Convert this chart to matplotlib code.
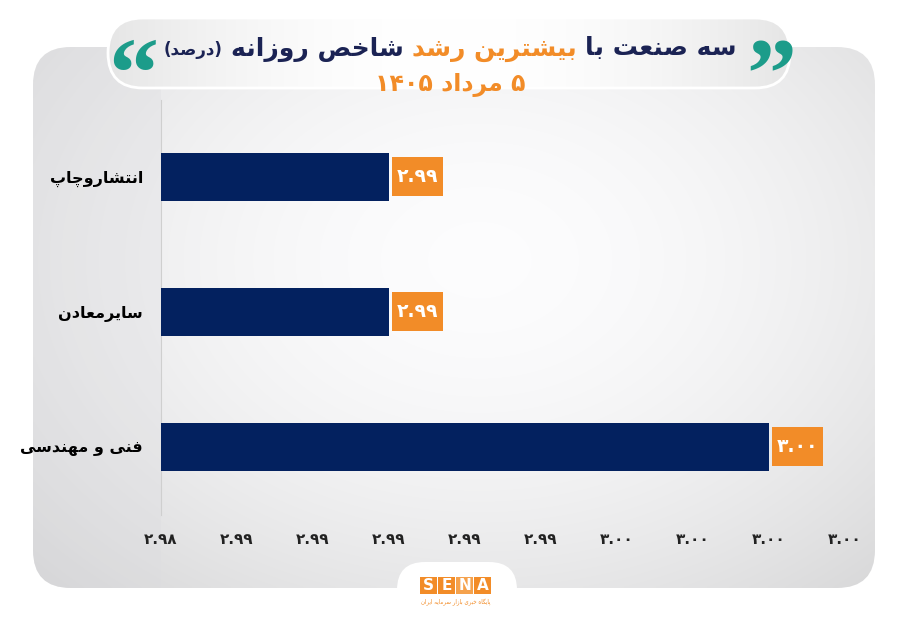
import numpy as np
import matplotlib
matplotlib.use("Agg")
import matplotlib.pyplot as plt
from matplotlib.patches import FancyBboxPatch, Rectangle
from matplotlib.offsetbox import TextArea, HPacker, AnnotationBbox
from matplotlib.ticker import FuncFormatter

# داده‌ها
categories = ["انتشاروچاپ", "سایرمعادن", "فنی و مهندسی"]
values = [2.9904, 2.9904, 3.0014]
x_start = 2.9838
x_step = 0.0022
n_ticks = 10

title_parts = ["سه صنعت با", "بیشترین رشد", "شاخص روزانه", "(درصد)"]
subtitle = "۵ مرداد ۱۴۰۵"
logo_letters = ["S", "E", "N", "A"]
tagline = "پایگاه خبری بازار سرمایه ایران"

NAVY = "#03215f"
ORANGE = "#f28c28"
DARK = "#1b2354"
TEAL = "#1c9c8a"

# --- شکل‌دهی ساده حروف فارسی (matplotlib خودش اتصال حروف را انجام نمی‌دهد)
FORMS = {
    "ا": ("\uFE8D", "\uFE8E", None, None),
    "ب": ("\uFE8F", "\uFE90", "\uFE91", "\uFE92"),
    "پ": ("\uFB56", "\uFB57", "\uFB58", "\uFB59"),
    "ت": ("\uFE95", "\uFE96", "\uFE97", "\uFE98"),
    "چ": ("\uFB7A", "\uFB7B", "\uFB7C", "\uFB7D"),
    "خ": ("\uFEA5", "\uFEA6", "\uFEA7", "\uFEA8"),
    "د": ("\uFEA9", "\uFEAA", None, None),
    "ر": ("\uFEAD", "\uFEAE", None, None),
    "ز": ("\uFEAF", "\uFEB0", None, None),
    "س": ("\uFEB1", "\uFEB2", "\uFEB3", "\uFEB4"),
    "ش": ("\uFEB5", "\uFEB6", "\uFEB7", "\uFEB8"),
    "ص": ("\uFEB9", "\uFEBA", "\uFEBB", "\uFEBC"),
    "ع": ("\uFEC9", "\uFECA", "\uFECB", "\uFECC"),
    "ف": ("\uFED1", "\uFED2", "\uFED3", "\uFED4"),
    "ک": ("\uFB8E", "\uFB8F", "\uFB90", "\uFB91"),
    "گ": ("\uFB92", "\uFB93", "\uFB94", "\uFB95"),
    "ل": ("\uFEDD", "\uFEDE", "\uFEDF", "\uFEE0"),
    "م": ("\uFEE1", "\uFEE2", "\uFEE3", "\uFEE4"),
    "ن": ("\uFEE5", "\uFEE6", "\uFEE7", "\uFEE8"),
    "ه": ("\uFEE9", "\uFEEA", "\uFEEB", "\uFEEC"),
    "و": ("\uFEED", "\uFEEE", None, None),
    "ی": ("\uFBFC", "\uFBFD", "\uFBFE", "\uFBFF"),
}
FA_DIGITS = str.maketrans("0123456789", "۰۱۲۳۴۵۶۷۸۹")


def shape(s):
    out = []
    for i, ch in enumerate(s):
        if ch not in FORMS:
            out.append(ch)
            continue
        prev = s[i - 1] if i > 0 else ""
        nxt = s[i + 1] if i + 1 < len(s) else ""
        join_prev = prev in FORMS and FORMS[prev][2] is not None
        join_next = nxt in FORMS and FORMS[ch][2] is not None
        iso, fin, ini, med = FORMS[ch]
        if join_prev and join_next:
            out.append(med)
        elif join_prev:
            out.append(fin)
        elif join_next:
            out.append(ini)
        else:
            out.append(iso)
    return "".join(out)


def is_arabic(c):
    return ("\u0600" <= c <= "\u06EF") or ("\uFB50" <= c <= "\uFEFF")


def fa(s):
    words = shape(s).split(" ")
    res = []
    for w in words:
        if any(is_arabic(c) for c in w):
            w = w[::-1].translate(str.maketrans("()", ")("))
        res.append(w)
    return " ".join(res[::-1])


plt.rcParams["font.family"] = ["DejaVu Sans"]

fig = plt.figure(figsize=(9, 6.23), dpi=100)
bg = fig.add_axes([0, 0, 1, 1])
bg.set_xlim(0, 900)
bg.set_ylim(623, 0)
bg.axis("off")

# پنل خاکستری با گرادیان
px0, py0, px1, py1 = 33, 47, 875, 588
panel = FancyBboxPatch((px0, py0), px1 - px0, py1 - py0,
                       boxstyle="round,pad=0,rounding_size=38",
                       fc="none", ec="none")
bg.add_patch(panel)
gx, gy = np.meshgrid(np.linspace(px0, px1, 300), np.linspace(py0, py1, 200))
r = np.sqrt(((gx - 480) / 540) ** 2 + ((gy - 260) / 400) ** 2)
shade = np.clip(0.99 - 0.12 * r ** 1.8, 0, 1)
img = np.dstack([shade, shade, shade * 1.004])
img = np.clip(img, 0, 1)
im = bg.imshow(img, extent=(px0, px1, py1, py0), origin="upper",
               interpolation="bilinear", zorder=1)
im.set_clip_path(panel)
strip = Rectangle((px0, py0), 161 - px0, py1 - py0, fc="#dcdce0", alpha=0.3,
                  ec="none", zorder=2)
bg.add_patch(strip)
strip.set_clip_path(panel)

# قاب عنوان
pill = FancyBboxPatch((108, 18), 682, 70, boxstyle="round,pad=0,rounding_size=35",
                      fc="none", ec="white", lw=2, zorder=4)
bg.add_patch(pill)
hx = np.linspace(-1, 1, 400)
hs = 1.0 - 0.10 * np.abs(hx) ** 2.0
himg = np.dstack([hs, hs, hs]).repeat(10, axis=0)
him = bg.imshow(himg, extent=(108, 790, 88, 18), origin="upper",
                interpolation="bilinear", zorder=3)
him.set_clip_path(pill)

# عنوان چندرنگ
parts = [
    TextArea(fa(title_parts[3]), textprops=dict(color=DARK, fontsize=12, fontweight="bold")),
    TextArea(fa(title_parts[2]), textprops=dict(color=DARK, fontsize=18, fontweight="bold")),
    TextArea(fa(title_parts[1]), textprops=dict(color=ORANGE, fontsize=18, fontweight="bold")),
    TextArea(fa(title_parts[0]), textprops=dict(color=DARK, fontsize=18, fontweight="bold")),
]
pack = HPacker(children=parts, align="baseline", pad=0, sep=6)
ab = AnnotationBbox(pack, (450, 49), xycoords=bg.transData, frameon=False,
                    box_alignment=(0.5, 0.5), zorder=5)
bg.add_artist(ab)
bg.text(450, 85, fa(subtitle), color=ORANGE, fontsize=17, fontweight="bold",
        ha="center", va="center", zorder=5)
bg.text(771, 82, "\u201D", color=TEAL, fontsize=72, fontweight="bold",
        family="Liberation Serif", ha="center", va="center", zorder=5)
bg.text(133, 82, "\u201C", color=TEAL, fontsize=72, fontweight="bold",
        family="Liberation Serif", ha="center", va="center", zorder=5)

# لوگو
tab = FancyBboxPatch((397, 562), 120, 90, boxstyle="round,pad=0,rounding_size=28",
                     fc="white", ec="none", zorder=4)
bg.add_patch(tab)
for i, letter in enumerate(logo_letters):
    x = 420 + i * 18
    bg.add_patch(Rectangle((x, 577), 17, 17, fc=ORANGE if i != 2 else "#f5a24d",
                           ec="none", zorder=5))
    bg.text(x + 8.5, 586, letter, color="white", fontsize=11, fontweight="bold",
            ha="center", va="center", zorder=6)
bg.text(456, 602, fa(tagline), color=ORANGE, fontsize=4, ha="center", va="center",
        zorder=6)

# نمودار میله‌ای
ax_l, ax_r, ax_t, ax_b = 161, 845, 100, 515
ax = fig.add_axes([ax_l / 900, 1 - ax_b / 623, (ax_r - ax_l) / 900, (ax_b - ax_t) / 623])
ax.set_facecolor("none")
y_pos = np.arange(len(categories))
ax.barh(y_pos, values, height=0.355, color=NAVY, zorder=3)
ax.set_xlim(x_start, x_start + x_step * (n_ticks - 1))
ax.set_ylim(2.504, -0.570)
ax.set_xticks(x_start + x_step * np.arange(n_ticks))
ax.xaxis.set_major_formatter(FuncFormatter(lambda v, p: f"{v:.2f}".translate(FA_DIGITS)))
ax.set_yticks(y_pos)
ax.set_yticklabels([fa(c) for c in categories])
ax.tick_params(axis="x", length=0, pad=12, labelsize=11, labelcolor="#222222")
ax.tick_params(axis="y", length=0, pad=13, labelsize=11.5, labelcolor="black")
for lab in ax.get_xticklabels() + ax.get_yticklabels():
    lab.set_fontweight("bold")
for s in ["top", "right", "bottom"]:
    ax.spines[s].set_visible(False)
ax.spines["left"].set_color("#cfcfcf")
ax.spines["left"].set_linewidth(0.8)

# جعبه‌های نارنجی برچسب مقدار (اندازه به پیکسل)
xlim = ax.get_xlim()
ylim = ax.get_ylim()
dx_per_px = (xlim[1] - xlim[0]) / (ax_r - ax_l)
dy_per_px = abs(ylim[0] - ylim[1]) / (ax_b - ax_t)
box_w, box_h, gap = 51, 39, 3
for yy, v in zip(y_pos, values):
    x0 = v + gap * dx_per_px
    ax.add_patch(Rectangle((x0, yy - box_h * dy_per_px / 2), box_w * dx_per_px,
                           box_h * dy_per_px, fc=ORANGE, ec="none", zorder=4,
                           clip_on=False))
    ax.text(x0 + box_w * dx_per_px / 2, yy, f"{v:.2f}".translate(FA_DIGITS),
            ha="center", va="center", color="white", fontsize=13.5,
            fontweight="bold", zorder=5)

fig.savefig("out.png", dpi=100)
